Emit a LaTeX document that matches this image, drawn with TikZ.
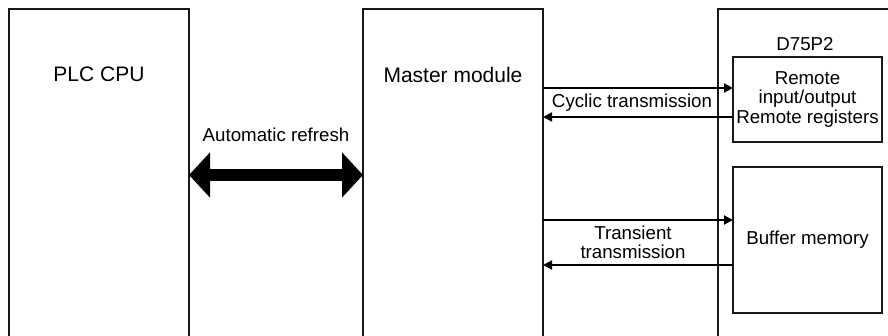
\documentclass[tikz,border=0pt]{standalone}
\usepackage{fontspec}
\setmainfont{Liberation Sans}
\usetikzlibrary{arrows.meta}
\begin{document}
\begin{tikzpicture}[x=1pt,y=-1pt,
  box/.style={draw=black!90,line width=1.2pt,rectangle,inner sep=0pt,outer sep=0pt,anchor=north west},
  title/.style={font=\fontsize{21}{24}\selectfont,inner sep=0pt},
  lbl/.style={font=\fontsize{18.7}{19.5}\selectfont,align=center,inner sep=0pt},
  sig/.style={line width=2pt,-{Triangle[length=9pt,width=9pt]}},
  big/.style={line width=12pt,{Triangle[length=21pt,width=44pt]}-{Triangle[length=21pt,width=44pt]}},
  ]
\useasboundingbox (0,0) rectangle (888,336);
\clip (0,0) rectangle (888,336);
\node[box,minimum width=180pt,minimum height=360pt] (plc) at (9,9) {};
\node[box,minimum width=180pt,minimum height=360pt] (master) at (363,9) {};
\node[box,minimum width=200pt,minimum height=360pt] (d75) at (718,9) {};
\node[box,minimum width=149pt,minimum height=85pt] (remote) at (733,57) {};
\node[box,minimum width=149pt,minimum height=146pt] (buffer) at (733,167) {};

\node[title] (tplc) at (99,74.5) {PLC CPU};
\node[title] (tmaster) at (453,74.5) {Master module};
\node[lbl] (td75) at (805,44) {D75P2};
\node[lbl] (tremote) at (remote.center) {Remote\\input/output\\Remote registers};
\node[lbl] (tbuffer) at (buffer.center) {Buffer memory};

\node[lbl] (tauto) at (276,135) {Automatic refresh};
\node[lbl] (tcyc) at (632,103) {Cyclic transmission};
\node[lbl] (ttrans) at (633,242.5) {Transient\\transmission};

\coordinate (yc1) at (0,88);
\coordinate (yc2) at (0,117);
\coordinate (yt1) at (0,220);
\coordinate (yt2) at (0,265);
\coordinate (yb) at (0,175);

\draw[sig] (master.east |- yc1) -- (remote.west |- yc1);
\draw[sig] (remote.west |- yc2) -- (master.east |- yc2);
\draw[sig] (master.east |- yt1) -- (buffer.west |- yt1);
\draw[sig] (buffer.west |- yt2) -- (master.east |- yt2);
\draw[big] (plc.east |- yb) -- (master.west |- yb);
\end{tikzpicture}
\end{document}
